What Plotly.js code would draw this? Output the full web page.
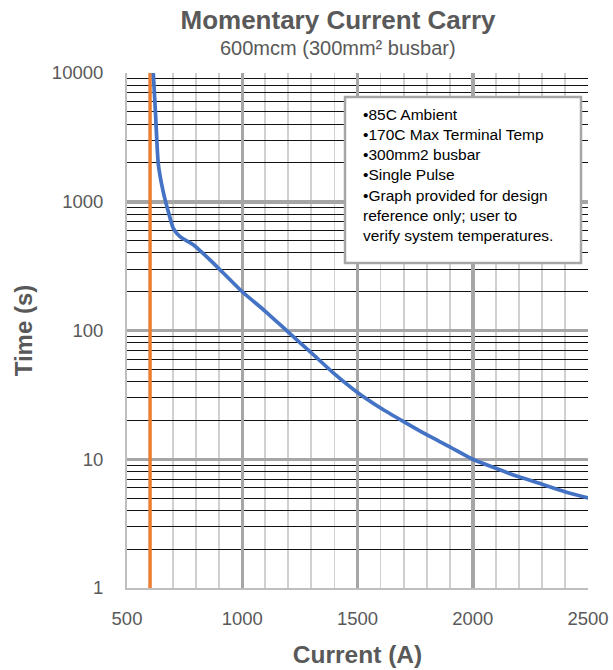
<!DOCTYPE html>
<html>
<head>
<meta charset="utf-8">
<script src="https://cdn.plot.ly/plotly-3.0.1.min.js"></script>
<style>html,body{margin:0;padding:0;background:#fff;}#chart{width:613px;height:670px;}</style>
</head>
<body>
<div id="chart"></div>
<script>
// Blue curve: momentary current carry (A) vs time (s)
const currentA = [614, 624, 636, 657, 679, 701, 730, 790, 870, 1000, 1100, 1200, 1300, 1400, 1500, 1600, 1700, 1800, 1900, 2000, 2100, 2200, 2300, 2400, 2500];
const timeS = [10000, 4700, 1950, 1200, 840, 620, 535, 460, 340, 200, 141, 97, 67, 46, 33, 25, 19.6, 15.5, 12.5, 10, 8.5, 7.3, 6.4, 5.6, 5.0];
// Orange vertical limit line at 600 A
const limitX = [600, 600];
const limitY = [1, 10000];
// Axis ticks
const xTickVals = [500, 1000, 1500, 2000, 2500];
const xTickText = ['500', '1000', '1500', '2000', '2500'];
const yTickVals = [1, 10, 100, 1000, 10000];
const yTickText = ['1', '10', '100', '1000', '10000'];
const noteLines = ['•85C Ambient', '•170C Max Terminal Temp', '•300mm2 busbar', '•Single Pulse', '•Graph provided for design', 'reference only; user to', 'verify system temperatures.'];

const FONT = 'Liberation Sans, Arial, sans-serif';
const traces = [
  {x: limitX, y: limitY, type: 'scatter', mode: 'lines', line: {color: '#ED7D31', width: 3.5}, hoverinfo: 'skip', showlegend: false},
  {x: currentA, y: timeS, type: 'scatter', mode: 'lines', line: {color: '#4472C4', width: 3.7, shape: 'spline', smoothing: 0.6}, showlegend: false}
];

const layout = {
  width: 613, height: 670,
  margin: {l: 127, r: 25, t: 73, b: 82},
  paper_bgcolor: '#ffffff', plot_bgcolor: '#ffffff',
  font: {family: FONT, color: '#595959'},
  title: {text: '<b>Momentary Current Carry</b>', font: {size: 26, color: '#595959', family: FONT}, x: 338/613, xanchor: 'center', xref: 'container', y: 1 - 19.5/670, yanchor: 'middle', yref: 'container'},
  xaxis: {
    range: [500, 2500], tickvals: xTickVals, ticktext: xTickText,
    showgrid: true, gridcolor: '#a6a6a6', gridwidth: 3.5,
    minor: {dtick: 100, showgrid: true, gridcolor: '#d0d0d0', gridwidth: 1.8},
    zeroline: false, showline: true, linecolor: '#bfbfbf', linewidth: 2,
    ticks: 'outside', ticklen: 13, tickcolor: 'rgba(0,0,0,0)',
    tickfont: {size: 18.5, color: '#595959', family: FONT},
    title: {text: '<b>Current (A)</b>', font: {size: 24.5, color: '#595959', family: FONT}, standoff: 18},
    fixedrange: true
  },
  yaxis: {
    type: 'log', range: [0, 4], tickvals: yTickVals, ticktext: yTickText,
    showgrid: true, gridcolor: '#a6a6a6', gridwidth: 3.5,
    minor: {dtick: 'D1', showgrid: true, gridcolor: '#111111', gridwidth: 1},
    zeroline: false, showline: true, linecolor: '#bfbfbf', linewidth: 2,
    ticks: 'outside', ticklen: 18, tickcolor: 'rgba(0,0,0,0)',
    tickfont: {size: 18.5, color: '#595959', family: FONT},
    title: {text: '<b>Time (s)</b>', font: {size: 24, color: '#595959', family: FONT}, standoff: 12},
    fixedrange: true
  },
  shapes: [
    {type: 'rect', xref: 'paper', yref: 'paper', x0: (345-127)/461, x1: (581-127)/461, y0: (588-263)/515, y1: (588-97)/515,
     line: {color: '#a6a6a6', width: 2.5}, fillcolor: '#ffffff', layer: 'above'}
  ],
  annotations: [
    {text: '600mcm (300mm² busbar)', xref: 'paper', yref: 'paper', x: (338-127)/461, y: (588-48)/515, xanchor: 'center', yanchor: 'middle', showarrow: false, font: {size: 20, color: '#595959', family: FONT}},
    {text: noteLines.join('<br>'), xref: 'paper', yref: 'paper', x: (361-127)/461, y: (588-104)/515, xanchor: 'left', yanchor: 'top', align: 'left', showarrow: false, font: {size: 15.5, color: '#000000', family: FONT}}
  ]
};

Plotly.newPlot('chart', traces, layout, {displayModeBar: false, staticPlot: true});
</script>
</body>
</html>
